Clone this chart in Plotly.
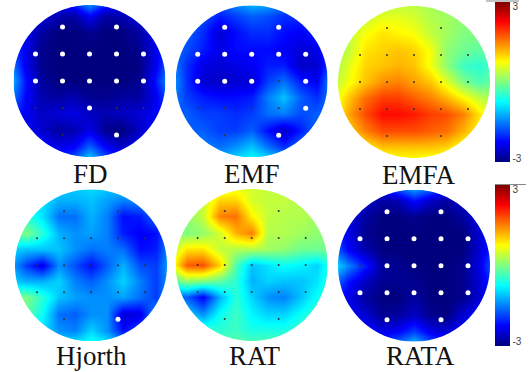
import numpy as np
import plotly.graph_objects as go

GRID = [-3, -2.4, -1.8, -1.2, -0.6, 0, 0.6, 1.2, 1.8, 2.4, 3]
ELECTRODE_ROWS = {-2: [-1, 1], -1: [-2, -1, 0, 1, 2], 0: [-2, -1, 0, 1, 2], 1: [-2, -1, 0, 1, 2], 2: [-1, 1]}
TICK_VALS = [-2.85, 2.85]
TICK_TEXT = ["-3", "3"]

FD = [
 [-2.2,-2.2,-2.2,-2.2,-1.8,-1.0,-1.8,-2.2,-2.2,-2.2,-2.2],
 [-2.2,-2.2,-2.4,-2.7,-2.8,-2.3,-2.8,-2.7,-2.4,-2.2,-2.2],
 [-2.1,-2.3,-2.8,-3.0,-3.0,-2.9,-3.0,-3.0,-2.8,-2.3,-2.1],
 [-1.8,-2.3,-2.9,-3.0,-3.0,-3.0,-3.0,-3.0,-2.9,-2.4,-1.9],
 [-1.3,-2.3,-2.9,-3.0,-3.0,-3.0,-3.0,-3.0,-3.0,-2.4,-1.5],
 [-0.9,-2.1,-2.8,-3.0,-3.0,-3.0,-3.0,-3.0,-2.9,-2.2,-1.2],
 [-1.3,-2.2,-2.7,-2.8,-2.7,-2.9,-2.9,-2.8,-2.8,-2.4,-1.6],
 [-1.9,-2.3,-2.6,-2.5,-2.4,-2.6,-2.7,-2.6,-2.5,-2.3,-2.0],
 [-2.1,-2.3,-2.5,-2.8,-2.7,-2.4,-2.9,-3.0,-2.6,-2.2,-2.0],
 [-2.0,-2.0,-2.2,-2.4,-2.3,-1.7,-2.3,-2.6,-2.3,-2.0,-2.0],
 [-2.0,-2.0,-2.0,-2.0,-1.6,-0.8,-1.6,-2.0,-2.0,-2.0,-2.0],
]
EMF = [
 [-1.7,-1.7,-1.7,-1.6,-1.3,-1.0,-1.1,-1.4,-1.6,-1.7,-1.7],
 [-1.7,-1.7,-1.8,-2.1,-1.9,-1.7,-1.8,-2.0,-2.0,-1.8,-1.7],
 [-1.7,-1.7,-2.0,-2.5,-2.2,-2.0,-2.0,-2.2,-2.3,-2.0,-1.8],
 [-1.6,-1.8,-2.1,-2.4,-2.2,-2.2,-2.2,-2.3,-2.5,-2.4,-1.8],
 [-1.4,-2.0,-2.4,-2.5,-2.4,-2.3,-2.1,-2.1,-2.6,-2.5,-1.7],
 [-1.2,-2.0,-2.5,-2.6,-2.5,-2.5,-1.9,-1.6,-2.1,-2.3,-1.3],
 [-1.4,-1.9,-2.1,-2.2,-2.2,-2.1,-1.5,-1.1,-1.7,-2.0,-1.4],
 [-1.7,-1.7,-1.9,-1.9,-2.0,-1.9,-1.6,-1.5,-1.8,-1.7,-1.6],
 [-1.7,-1.7,-1.7,-1.9,-1.9,-1.7,-2.2,-2.6,-2.1,-1.6,-1.6],
 [-1.5,-1.5,-1.5,-1.6,-1.4,-1.1,-1.6,-2.0,-1.6,-1.4,-1.4],
 [-1.3,-1.3,-1.3,-1.1,-0.8,-0.6,-0.7,-1.1,-1.3,-1.3,-1.3],
]
EMFA = [
 [.2,.2,.2,.3,.3,.3,.2,.1,.1,.1,.1],
 [.2,.3,.4,.6,.6,.5,.3,.2,.1,.1,.1],
 [.2,.4,.7,.9,.8,.7,.4,.2,.0,.0,.0],
 [.2,.4,.9,1.0,1.1,1.0,.7,.1,-.1,-.2,-.2],
 [.2,.6,1.0,1.1,1.2,1.1,.7,.1,-.4,-.5,-.3],
 [.3,.7,1.1,1.4,1.5,1.3,1.1,.6,.0,-.3,-.1],
 [.5,1.1,1.6,1.9,1.9,1.7,1.5,1.2,.8,.4,.2],
 [.6,1.3,1.8,2.2,2.2,2.1,1.9,1.8,1.5,.9,.4],
 [.5,1.0,1.5,1.8,1.8,1.8,1.7,1.6,1.2,.8,.3],
 [.4,.5,.8,1.1,1.1,1.1,1.1,1.0,.7,.5,.3],
 [.3,.3,.4,.5,.6,.6,.5,.5,.4,.3,.3],
]
HJORTH = [
 [-.9,-.9,-.9,-1,-1,-.9,-1,-1,-1,-1,-1],
 [-.8,-.8,-.9,-1.2,-1.2,-1.1,-1.3,-1.5,-1.4,-1.2,-1],
 [-.7,-.5,-.9,-1.6,-1.6,-1.2,-1.5,-2.2,-2.1,-1.6,-1.2],
 [-.3,.0,-.5,-1.2,-1.4,-1.3,-1.5,-2.1,-2.3,-2.2,-1.3],
 [-1,-1.1,-1.1,-1.1,-1.4,-1.6,-1.5,-1.6,-2.2,-2.1,-1.2],
 [-1.2,-1.9,-2.4,-1.4,-1.8,-2.2,-1.7,-1.2,-1.8,-1.9,-1.1],
 [-1,-1.2,-1.2,-1.0,-1.5,-1.7,-1.4,-1.0,-1.5,-1.9,-1.2],
 [-.3,.0,-.5,-1.1,-1.3,-1.4,-1.4,-1.3,-1.6,-1.9,-1.2],
 [-.5,-.2,-.7,-1.6,-1.7,-1.4,-1.4,-2.5,-2.4,-1.3,-1],
 [-.8,-.8,-.9,-1.4,-1.5,-1,-1.4,-2.2,-1.8,-1,-.9],
 [-.9,-.9,-.9,-.9,-.7,-.5,-.7,-1,-1,-1,-1],
]
RAT = [
 [.1,.1,.2,.3,.5,.5,.4,.3,.2,.1,.1],
 [.1,.1,.4,1.0,1.0,.5,.4,.4,.3,.2,.1],
 [.1,.1,.4,1.5,1.6,.8,.4,.3,.3,.2,.1],
 [0,.0,.1,.5,1.2,1.5,.3,.3,.2,.1,0],
 [.3,.9,.9,.4,.3,.3,.2,.1,-.1,-.1,-.1],
 [.5,1.7,1.8,1.0,-.3,-1.1,-.9,-.7,-.8,-1.0,-.4],
 [-.3,.1,.0,-.2,-.5,-1.2,-1,-1.1,-1.1,-.9,-.4],
 [-1.7,-1.7,-2.3,-1.2,-.5,-1.0,-1.4,-1.5,-1.1,-.7,-.3],
 [-1.2,-1.0,-1.4,-.7,-.4,-.8,-1,-1,-.7,-.4,-.2],
 [-.3,-.3,-.4,-.5,-.4,-.6,-.6,-.6,-.4,-.3,-.2],
 [-.2,-.2,-.2,-.2,-.2,-.2,-.2,-.2,-.2,-.2,-.2],
]
RATA = [
 [-2.3,-2.3,-2.3,-2.1,-1.4,-1,-1.3,-2,-2.3,-2.3,-2.3],
 [-2.3,-2.3,-2.5,-2.8,-2.7,-2.2,-2.6,-2.8,-2.5,-2.3,-2.3],
 [-2.3,-2.4,-2.8,-3,-3,-2.9,-3,-3,-2.8,-2.4,-2.3],
 [-2,-2.4,-2.9,-3,-3,-3,-3,-3,-3,-2.5,-2.1],
 [-1.5,-2.3,-2.7,-3,-3,-3,-3,-3,-3,-2.5,-1.9],
 [-.8,-1.5,-2.1,-2.8,-2.9,-3,-3,-3,-2.9,-2.4,-1.5],
 [-1.5,-2.2,-2.6,-2.9,-2.9,-2.9,-3,-3,-2.9,-2.5,-1.9],
 [-2.2,-2.4,-2.8,-3,-3,-2.8,-3,-3,-2.9,-2.5,-2.1],
 [-2.3,-2.3,-2.5,-2.9,-2.8,-2.6,-2.9,-3,-2.5,-2.2,-2.2],
 [-2.2,-2.2,-2.2,-2.4,-2.3,-1.9,-2.4,-2.5,-2.2,-2.2,-2.2],
 [-2.2,-2.2,-2.2,-2,-1.4,-.9,-1.5,-2,-2.2,-2.2,-2.2],
]

FD_SIG = [(-1,-2),(1,-2),(-2,-1),(-1,-1),(0,-1),(1,-1),(2,-1),(-2,0),(-1,0),(0,0),(1,0),(2,0),(0,1),(1,2)]
EMF_SIG = [(-1,-2),(1,-2),(-2,-1),(-1,-1),(0,-1),(1,-1),(2,-1),(-2,0),(-1,0),(0,0),(2,0),(2,1),(1,2)]
EMFA_SIG = []
HJORTH_SIG = [(1,2)]
RAT_SIG = []
RATA_SIG = [(-1,-2),(1,-2),(-2,-1),(-1,-1),(0,-1),(1,-1),(2,-1),(-1,0),(0,0),(1,0),(2,0),(-2,1),(-1,1),(0,1),(1,1),(2,1),(-1,2),(1,2)]

W, H = 531, 372
R_UNITS = 2.815
JET = [[0, "#00007f"], [.125, "#0000ff"], [.375, "#00ffff"], [.5, "#80ff80"],
       [.625, "#ffff00"], [.875, "#ff0000"], [1, "#7f0000"]]

# name, values, significant electrodes, circle centre x, y, radius, label x, y, coloraxis
panels = [
 ("FD", FD, FD_SIG, 89.5, 81, 76, 90, 174, "coloraxis"),
 ("EMF", EMF, EMF_SIG, 251.7, 81.3, 76, 252, 174, "coloraxis"),
 ("EMFA", EMFA, EMFA_SIG, 414, 82, 76, 419, 175, "coloraxis"),
 ("Hjorth", HJORTH, HJORTH_SIG, 91, 265.3, 76, 91, 356, "coloraxis2"),
 ("RAT", RAT, RAT_SIG, 251.7, 265, 76, 255, 356, "coloraxis2"),
 ("RATA", RATA, RATA_SIG, 414, 265.7, 76, 420, 356, "coloraxis2"),
]

fig = go.Figure()
layout = {}
shapes, annotations = [], []
t = np.linspace(0, 2 * np.pi, 241)
for i, (name, z, sig, cx, cy, r, lx, ly, cax) in enumerate(panels, start=1):
    xn, yn = f"x{i}", f"y{i}"
    layout[f"xaxis{i}"] = dict(domain=[(cx - r) / W, (cx + r) / W], range=[-R_UNITS, R_UNITS], visible=False, anchor=yn)
    layout[f"yaxis{i}"] = dict(domain=[1 - (cy + r) / H, 1 - (cy - r) / H], range=[R_UNITS, -R_UNITS], visible=False, anchor=xn)
    fig.add_trace(go.Heatmap(x=GRID, y=GRID, z=z, coloraxis=cax, zsmooth="best", xaxis=xn, yaxis=yn, hoverinfo="skip"))
    all_pts = [(x, y) for y, xs in ELECTRODE_ROWS.items() for x in xs]
    small = [p for p in all_pts if p not in sig]
    if small:
        fig.add_trace(go.Scatter(x=[p[0] for p in small], y=[p[1] for p in small], mode="markers",
                                 marker=dict(size=2, color="#333333"), xaxis=xn, yaxis=yn, showlegend=False))
    if sig:
        fig.add_trace(go.Scatter(x=[p[0] for p in sig], y=[p[1] for p in sig], mode="markers",
                                 marker=dict(size=5, color="white"), xaxis=xn, yaxis=yn, showlegend=False))
    # white page-coordinate mask with a round hole, slightly larger than the axes box
    px = lambda v: v / W
    py = lambda v: 1 - v / H
    m = r + 3
    ring = " ".join(("M" if k == 0 else "L") + f"{px(cx + r*np.cos(a)):.5f},{py(cy + r*np.sin(a)):.5f}" for k, a in enumerate(t))
    outer = f"M{px(cx-m):.5f},{py(cy-m):.5f} L{px(cx-m):.5f},{py(cy+m):.5f} L{px(cx+m):.5f},{py(cy+m):.5f} L{px(cx+m):.5f},{py(cy-m):.5f} Z"
    shapes.append(dict(type="path", path=f"{outer} {ring} Z", xref="paper", yref="paper",
                       fillcolor="white", line=dict(width=0), layer="above"))
    annotations.append(dict(text=name, x=lx / W, y=1 - ly / H, xref="paper", yref="paper", showarrow=False,
                            xanchor="center", yanchor="middle",
                            font=dict(family="Liberation Serif", size=27, color="#111111")))

# grey rules at the top of each colour bar
for x0, x1, y0 in [(486, 519, 1), (495, 526, 184.5)]:
    shapes.append(dict(type="line", x0=x0 / W, x1=x1 / W, y0=1 - y0 / H, y1=1 - y0 / H, xref="paper", yref="paper",
                       line=dict(color="#888888", width=1), layer="above"))


def bar(y_top, y_bot):
    return dict(cmin=-3, cmax=3, colorscale=JET, colorbar=dict(
        x=495 / W, xanchor="left", xref="paper", y=1 - y_bot / H, yanchor="bottom", yref="paper",
        len=y_bot - y_top, lenmode="pixels", thickness=15, thicknessmode="pixels",
        tickvals=TICK_VALS, ticktext=TICK_TEXT, ticks="", outlinewidth=0, xpad=0, ypad=0,
        tickfont=dict(family="Liberation Sans", size=10, color="#444444")))


fig.update_layout(width=W, height=H, margin=dict(l=0, r=0, t=0, b=0), paper_bgcolor="white", plot_bgcolor="white",
                  showlegend=False, coloraxis=bar(2, 162), coloraxis2=bar(185, 346),
                  shapes=shapes, annotations=annotations, **layout)
fig.write_html("out.html", post_script="document.body.style.margin='0';", config={"displayModeBar": False})
